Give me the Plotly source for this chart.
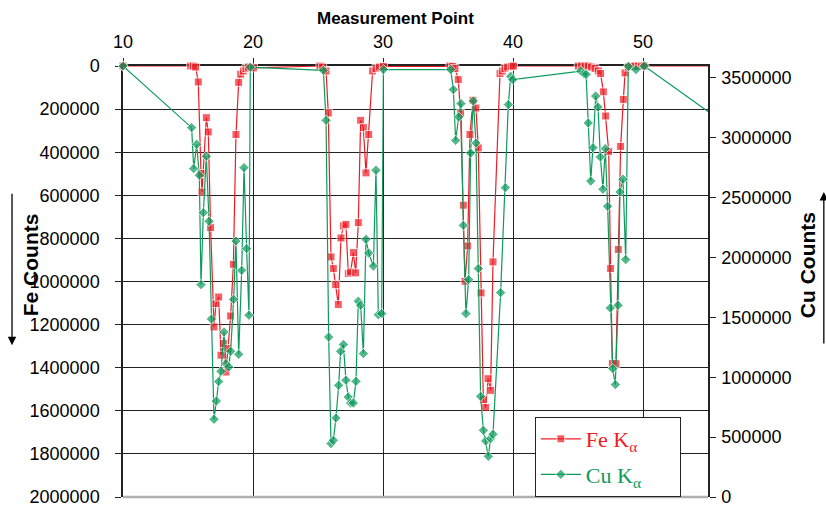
import plotly.graph_objects as go

# ---------------- data ----------------
fe_x = [10, 15.21, 15.41, 15.59, 15.79, 16.0, 16.08, 16.41, 16.56, 16.74, 17.0, 17.15, 17.36,
        17.54, 17.72, 17.92, 18.08, 18.28, 18.49, 18.69, 18.9, 19.05, 19.26, 19.46, 19.64, 20.03,
        25.15, 25.36, 25.62, 25.79, 26.0, 26.18, 26.36, 26.56, 26.77, 26.95, 27.15, 27.33, 27.51,
        27.72, 27.9, 28.1, 28.28, 28.49, 28.69, 28.9, 29.2, 29.46, 29.72, 30.03,
        35.15, 35.36, 35.54, 35.79, 35.97, 36.18, 36.31, 36.51, 36.69, 36.92, 37.15, 37.33, 37.54,
        37.72, 37.9, 38.08, 38.28, 38.46, 39.0, 39.18, 39.38, 39.59, 39.9, 40.03,
        45.02, 45.28, 45.54, 45.79, 46.05, 46.31, 46.56, 46.74, 46.95, 47.13, 47.36, 47.51, 47.64,
        47.92, 48.1, 48.28, 48.49, 48.62, 48.87, 49.13, 49.38, 49.64, 49.9, 50.08, 56]
fe_counts = [0, 0, 0, 5000, 74000, 499000, 585000, 240000, 306000, 750000, 1211000, 1103000, 1072000,
             1342000, 1288000, 1420000, 1312000, 1160000, 920000, 318000, 76000, 38000, 23000, 12000, 5000, 9000,
             0, 5000, 23000, 218000, 886000, 940000, 1015000, 1107000, 798000, 742000, 735000, 963000, 956000,
             866000, 960000, 727000, 252000, 286000, 496000, 318000, 23000, 12000, 5000, 2000,
             0, 2000, 12000, 63000, 221000, 646000, 999000, 835000, 318000, 159000, 195000, 380000, 1053000,
             1548000, 1585000, 1451000, 1505000, 909000, 35000, 23000, 12000, 5000, 2000, 0,
             0, 0, 0, 0, 5000, 12000, 23000, 35000, 120000, 232000, 396000, 940000, 1381000,
             1381000, 851000, 373000, 155000, 32000, 5000, 2000, 0, 0, 0, 0, 0]

cu_x = [10, 15.28, 15.44, 15.67, 15.87, 16.0, 16.18, 16.41, 16.62, 16.8, 17.0, 17.18, 17.36,
        17.54, 17.77, 17.92, 18.13, 18.28, 18.51, 18.69, 18.9, 19.13, 19.31, 19.51, 19.69, 19.79,
        25.41, 25.62, 25.82, 26.0, 26.18, 26.38, 26.59, 26.74, 26.95, 27.15, 27.33, 27.51, 27.72,
        27.92, 28.1, 28.28, 28.49, 28.69, 28.9, 29.26, 29.46, 29.64, 29.9, 30.03,
        35.21, 35.41, 35.59, 35.82, 36.0, 36.18, 36.38, 36.59, 36.74, 36.95, 37.15, 37.33, 37.51,
        37.72, 37.9, 38.1, 38.28, 38.46, 39.05, 39.41, 39.64, 39.82, 39.98,
        45.2, 45.46, 45.62, 45.79, 45.98, 46.15, 46.36, 46.54, 46.72, 46.92, 47.1, 47.28, 47.49,
        47.67, 47.87, 48.08, 48.23, 48.46, 48.67, 48.87, 49.46, 50.1, 56]
cu_counts = [3600000, 3085000, 2743000, 2946000, 2687000, 1774000, 2375000, 2846000, 2303000, 1487000, 649000, 802000, 964000,
             1050000, 1378000, 1114000, 1086000, 1217000, 1651000, 2138000, 1192000, 1893000, 2751000, 2075000, 1518000, 3590000,
             3564000, 3146000, 1336000, 446000, 474000, 660000, 933000, 1217000, 1273000, 975000, 835000, 785000, 785000,
             966000, 1635000, 1601000, 1198000, 2152000, 2038000, 1929000, 2729000, 1523000, 1532000, 3570000,
             3570000, 3403000, 2979000, 3174000, 3286000, 2269000, 1532000, 1816000, 2873000, 3308000, 2957000, 1908000, 841000,
             557000, 468000, 340000, 488000, 524000, 1707000, 2584000, 3278000, 3514000, 3486000,
             3558000, 3536000, 3530000, 3124000, 2639000, 2918000, 3349000, 3257000, 2840000, 2570000, 2910000, 2428000, 1579000,
             1072000, 939000, 1601000, 2548000, 2654000, 1983000, 3597000, 3570000, 3600000, 3143000]

x_ticks = [10, 20, 30, 40, 50]

RED = "#ee1c24"
GREEN = "#0e9a5c"

fe_sizes = [8] * (len(fe_x) - 1) + [0]
cu_sizes = [8] * (len(cu_x) - 1) + [0]

PAD = "&nbsp;" * 6

fig = go.Figure()
fig.add_trace(go.Scatter(
    x=fe_x, y=fe_counts, mode="lines+markers", yaxis="y", legendgroup="fe",
    name='<span style="color:#ee1c24">Fe K<sub>α</sub></span>' + PAD,
    line=dict(color=RED, width=1.2),
    marker=dict(symbol="square", size=fe_sizes, color=RED),
    cliponaxis=False,
))
fig.add_trace(go.Scatter(
    x=cu_x, y=cu_counts, mode="lines+markers", yaxis="y2", legendgroup="cu",
    name='<span style="color:#0e9a5c">Cu K<sub>α</sub></span>' + PAD,
    line=dict(color=GREEN, width=1.2),
    marker=dict(symbol="diamond", size=cu_sizes, color=GREEN),
    cliponaxis=False,
))

tickfont = dict(family="Liberation Sans, Arial", size=18, color="black")

fig.update_layout(
    width=826, height=508,
    margin=dict(l=123, r=118, t=66, b=11, pad=0),
    paper_bgcolor="white", plot_bgcolor="white",
    showlegend=True,
    legend=dict(
        x=0.704, y=0, xanchor="left", yanchor="bottom",
        bgcolor="white", bordercolor="#222", borderwidth=1,
        font=dict(family="Liberation Serif, Times New Roman", size=22),
        itemwidth=40, tracegroupgap=4,
    ),
    xaxis=dict(
        side="top", range=[10, 55], tickvals=x_ticks, automargin=False,
        showgrid=True, gridcolor="#222", gridwidth=1.3,
        showline=True, linecolor="#222", linewidth=1.5,
        ticks="outside", ticklen=6, tickcolor="#222",
        tickfont=tickfont, zeroline=False, layer="below traces",
        ticklabelstandoff=3,
    ),
    yaxis=dict(
        range=[2000000, 0], dtick=200000, tickformat="d", automargin=False,
        showgrid=True, gridcolor="#222", gridwidth=1.3,
        showline=True, linecolor="#222", linewidth=1.5,
        ticks="outside", ticklen=6, tickcolor="#222",
        tickfont=tickfont, zeroline=False, layer="below traces",
        ticklabelstandoff=12,
    ),
    yaxis2=dict(
        overlaying="y", side="right", range=[0, 3600000], dtick=500000, tickformat="d",
        automargin=False,
        showgrid=False, showline=True, linecolor="#222", linewidth=1.5,
        ticks="outside", ticklen=6, tickcolor="#222",
        tickfont=tickfont, zeroline=False, layer="below traces",
        ticklabelstandoff=2,
    ),
    shapes=[
        dict(type="line", xref="paper", yref="paper", x0=0, x1=1, y0=0, y1=0,
             line=dict(color="#b0b0b0", width=2.5)),
    ],
    annotations=[
        dict(text="<b>Measurement Point</b>", xref="paper", yref="paper",
             x=0.465, y=1.1107, xanchor="center", yanchor="middle", showarrow=False,
             font=dict(family="Liberation Sans, Arial", size=17, color="black")),
        dict(text="<b>Fe Counts</b>", xref="paper", yref="paper", x=-0.159, y=0.54,
             xanchor="center", yanchor="middle", textangle=-90, showarrow=False,
             font=dict(family="Liberation Sans, Arial", size=21, color="black")),
        dict(text="<b>Cu Counts</b>", xref="paper", yref="paper", x=1.169, y=0.5376,
             xanchor="center", yanchor="middle", textangle=-90, showarrow=False,
             font=dict(family="Liberation Sans, Arial", size=21, color="black")),
        dict(text="", xref="paper", yref="paper", x=-0.1897, y=0.352,
             ax=0, ay=-153, axref="pixel", ayref="pixel", showarrow=True,
             arrowhead=2, arrowsize=1.3, arrowwidth=1.3, arrowcolor="black"),
        dict(text="", xref="paper", yref="paper", x=1.198, y=0.7077,
             ax=0, ay=153, axref="pixel", ayref="pixel", showarrow=True,
             arrowhead=2, arrowsize=1.3, arrowwidth=1.3, arrowcolor="black"),
    ],
)

fig.write_html("out.html", config={"displayModeBar": False},
               post_script="document.body.style.margin='0';document.body.style.padding='0';")
